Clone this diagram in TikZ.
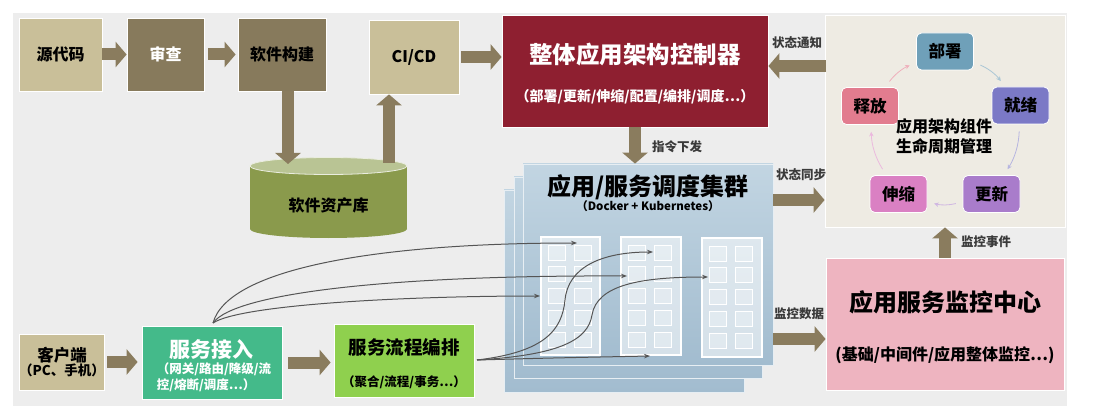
\documentclass[tikz,border=0pt]{standalone}
\usepackage{fontspec}
\setmainfont{Noto Sans CJK SC}
\usetikzlibrary{arrows.meta,calc}
\definecolor{bg}{HTML}{EDEDED}
\definecolor{tanl}{HTML}{C9BF99}
\definecolor{tand}{HTML}{877A5C}
\definecolor{arrowc}{HTML}{8A7C5E}
\definecolor{ctrlc}{HTML}{8E1F30}
\definecolor{cylb}{HTML}{8A9A4C}
\definecolor{cylt}{HTML}{B9C494}
\definecolor{clt}{HTML}{C2D5E2}
\definecolor{clb}{HTML}{A2BCCF}
\definecolor{lifec}{HTML}{EEEBE3}
\definecolor{depc}{HTML}{6FA0B9}
\definecolor{rdyc}{HTML}{7B79C6}
\definecolor{updc}{HTML}{A97CCB}
\definecolor{sclc}{HTML}{DA80C3}
\definecolor{relc}{HTML}{E27C8F}
\definecolor{monc}{HTML}{EEB4C0}
\definecolor{insc}{HTML}{44BA8A}
\definecolor{orchc}{HTML}{8FD04E}
\definecolor{lblc}{HTML}{3A3A3A}
\definecolor{curvec}{HTML}{555555}
\tikzset{
  box/.style={draw=white, line width=0.8pt, inner sep=0pt, align=center,
    font=\bfseries\fontsize{16}{19}\selectfont},
  fat/.style={draw=arrowc, line width=12pt, -{Triangle[length=11pt,width=25pt]}},
  lbl/.style={font=\bfseries\fontsize{12.5}{14}\selectfont, text=lblc, inner sep=0pt},
  lc/.style={line width=0.8pt, -{Stealth[length=4.5pt,width=4.5pt]}, bend left=15,
    shorten <=7pt, shorten >=7pt},
  lnode/.style={rounded corners=5pt, draw=white, line width=0.8pt, inner sep=0pt,
    minimum width=57pt, minimum height=37pt, font=\bfseries\fontsize{16.5}{19}\selectfont},
  curve/.style={draw=curvec, line width=1pt, -{Stealth[length=6pt,width=4.5pt]}},
  layer/.style={draw=white!60!clt, line width=0.8pt, top color=clt, bottom color=clb, inner sep=0pt},
  col/.style={draw=white, line width=1.5pt, fill=white, fill opacity=0.55, inner sep=0pt,
    minimum width=59pt, minimum height=118pt},
  sq/.style={draw=white, line width=1pt, fill=white, fill opacity=0.25},
}
\begin{document}
\begin{tikzpicture}[x=1pt,y=-1pt]
\useasboundingbox (0,0) rectangle (1097,406);
\fill[bg] (13,13) rectangle (1067,406);

% top pipeline
\node[box, fill=tanl, minimum width=83pt, minimum height=73pt] (src) at (60.5,54.5) {源代码};
\node[box, fill=tand, minimum width=77pt, minimum height=73pt, text=white] (rev) at (165.5,54.5) {审查};
\node[box, fill=tand, minimum width=88pt, minimum height=73pt] (bld) at (282,54.5) {软件构建};
\node[box, fill=tanl, minimum width=90pt, minimum height=74pt] (cicd) at (414,57) {CI/CD};

% repository cylinder
\fill[cylb] (250,166) rectangle (407,229);
\fill[cylb] (328.5,229) ellipse [x radius=78.5pt, y radius=9pt];
\fill[cylt, draw=white!70!cylt, line width=0.8pt] (328.5,166) ellipse [x radius=78.5pt, y radius=8.5pt];
\node[font=\bfseries\fontsize{16}{19}\selectfont, inner sep=0pt] (repo) at (328.5,205) {软件资产库};
\coordinate (repoin) at (288,164);
\coordinate (repoout) at (389,163);

\draw[fat] (src.east) -- (rev.west);
\draw[fat] ([xshift=4pt]rev.east) -- ([xshift=-2pt]bld.west);
\draw[fat] (bld.south -| repoin) -- (repoin);
\draw[fat] (repoout) -- (repoout |- cicd.south);

% controller
\node[box, fill=ctrlc, minimum width=266pt, minimum height=112pt] (ctrl) at (635,71) {};
\node[font=\bfseries\fontsize{23.5}{27}\selectfont, text=white, inner sep=0pt] (ctrlt) at (635,55) {整体应用架构控制器};
\node[font=\bfseries\fontsize{14}{16}\selectfont, text=white, inner sep=0pt] (ctrls) at (635,97) {（部署/更新/伸缩/配置/编排/调度⋯）};
\draw[fat] ([xshift=2pt]cicd.east) -- (cicd.east -| ctrl.west);

% cluster layers
\node[layer, minimum width=240pt, minimum height=202pt] (clB) at (624,291) {};
\node[layer, minimum width=248pt, minimum height=201pt] (clM) at (638,277.5) {};
\node[layer, minimum width=250pt, minimum height=201pt] (clF) at (648,264.5) {};
\node[font=\bfseries\fontsize{24}{28}\selectfont, inner sep=0pt] (clt) at (648,187) {应用/服务调度集群};
\node[font=\bfseries\fontsize{11.5}{13}\selectfont, inner sep=0pt] (cls) at (648,206) {（Docker + Kubernetes）};

% columns
\node[col] (c1) at (570.5,296) {};
\node[col, minimum width=60pt] (c2) at (651,296) {};
\node[col, minimum width=60pt, minimum height=119pt] (c3) at (732,297.5) {};
\foreach \c in {c1,c2,c3}{
  \foreach \i in {0,...,4}{
    \draw[sq] ($(\c.north west)+(8,9+21.7*\i)$) rectangle ++(17,15);
    \draw[sq] ($(\c.north west)+(34,9+21.7*\i)$) rectangle ++(17,15);
  }
}

\draw[fat] (ctrl.south) -- (ctrl.south |- clF.north);
\node[lbl] (cmd) at (677,147) {指令下发};

% lifecycle box
\node[box, fill=lifec, minimum width=240pt, minimum height=212pt] (life) at (945,121) {};
\node[lnode, fill=depc] (dep) at (945,51.5) {部署};
\node[lnode, fill=rdyc] (rdy) at (1020.5,105.5) {就绪};
\node[lnode, fill=updc] (upd) at (991.5,194) {更新};
\node[lnode, fill=sclc] (scl) at (898.5,194) {伸缩};
\node[lnode, fill=relc] (rel) at (870,106) {释放};
\node[align=center, font=\bfseries\fontsize{16}{20}\selectfont, inner sep=0pt] (lct) at (944,136) {应用架构组件\\生命周期管理};
\draw[lc, draw=relc!60!white] (rel) to (dep);
\draw[lc, draw=depc!60!white] (dep) to (rdy);
\draw[lc, draw=rdyc!55!white] (rdy) to (upd);
\draw[lc, draw=updc!55!white] (upd) to (scl);
\draw[lc, draw=sclc!55!white] (scl) to (rel);

\coordinate (notif) at (826,66);
\draw[fat] (notif) -- (notif -| ctrl.east);
\node[lbl] (notifl) at (797,43) {状态通知};
\coordinate (sync) at (773,200);
\draw[fat] (sync) -- (sync -| life.west);
\node[lbl] (syncl) at (801,175) {状态同步};

% monitor
\node[box, fill=monc, minimum width=238pt, minimum height=132pt] (mon) at (945,324) {};
\node[font=\bfseries\fontsize{24}{28}\selectfont, inner sep=0pt] (mont) at (945,302) {应用服务监控中心};
\node[font=\bfseries\fontsize{16}{19}\selectfont, inner sep=0pt] (mons) at (945,355) {(基础/中间件/应用整体监控⋯)};
\draw[fat] (mon.north) -- (life.south);
\node[lbl] (evl) at (986,242) {监控事件};
\coordinate (mdata) at (773,339);
\draw[fat] (mdata) -- (mdata -| mon.west);
\node[lbl] (mdl) at (799,314) {监控数据};

% bottom row
\node[box, fill=tanl, minimum width=82pt, minimum height=56pt, font=\bfseries\fontsize{16.5}{17}\selectfont] (cli) at (62,362) {客户端\\[-3pt]{\fontsize{13.5}{15}\selectfont （PC、手机）}};
\node[box, fill=insc, minimum width=140pt, minimum height=73pt] (ins) at (212,362.5) {};
\node[font=\bfseries\fontsize{21}{24}\selectfont, text=white, inner sep=0pt] (inst) at (211,350) {服务接入};
\node[align=left, font=\bfseries\fontsize{12.5}{16}\selectfont, text=white, inner sep=0pt] (inss) at (214,377) {（网关/路由/降级/流\\控/熔断/调度⋯）};
\node[box, fill=orchc, minimum width=140pt, minimum height=73pt] (orch) at (404,360.5) {};
\node[font=\bfseries\fontsize{18.5}{22}\selectfont, inner sep=0pt] (orcht) at (404,347) {服务流程编排};
\node[font=\bfseries\fontsize{12.5}{14}\selectfont, inner sep=0pt] (orchs) at (404,382) {（聚合/流程/事务⋯）};
\draw[fat] ([xshift=2pt]cli.east) -- ([xshift=-4pt]cli.east -| ins.west);
\draw[fat] ([xshift=6pt]ins.east) -- ([xshift=-3pt]ins.east -| orch.west);

% curves
\coordinate (e1) at (577,243);
\coordinate (e2) at (627,276);
\coordinate (e3) at (540,296);
\coordinate (e4) at (653,252);
\coordinate (e5) at (708,277);
\coordinate (e6) at (650,356);
\coordinate (s1) at (213,323);
\coordinate (s2) at (477,360);
\draw[curve] (s1) .. controls (228,268) and (380,243) .. (e1);
\draw[curve] (s1) .. controls (235,292) and (400,275) .. (e2);
\draw[curve] (s1) .. controls (240,305) and (400,296) .. (e3);
\draw[curve] (s2) .. controls (545,352) and (562,330) .. (565,300) .. controls (568,268) and (600,252) .. (e4);
\draw[curve] (s2) .. controls (560,355) and (588,340) .. (592,315) .. controls (597,285) and (640,277) .. (e5);
\draw[curve] (s2) .. controls (550,358) .. (e6);
\end{tikzpicture}
\end{document}
